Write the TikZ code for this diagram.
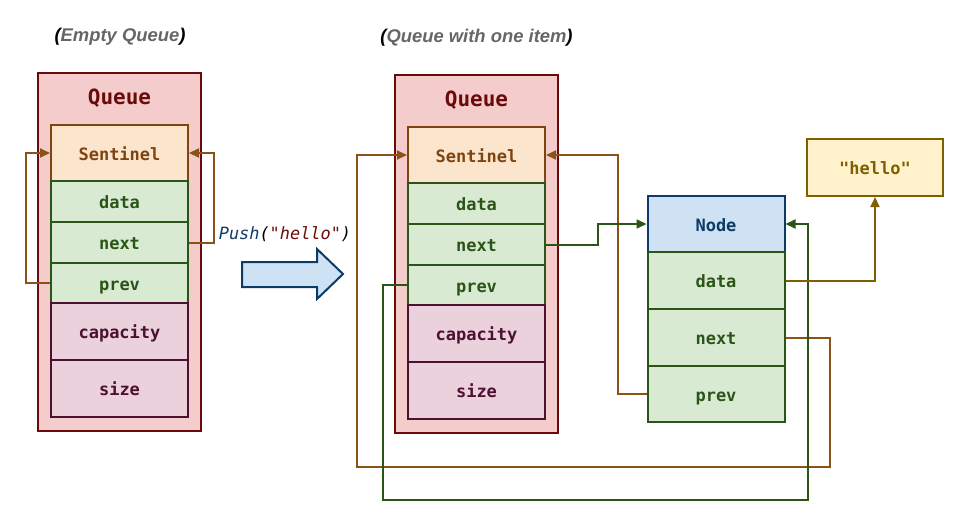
\documentclass[tikz,border=0pt]{standalone}
\usepackage{fontspec}
\setmainfont{Liberation Sans}
\setmonofont{DejaVu Sans Mono}
\usetikzlibrary{arrows.meta}
\definecolor{qfill}{HTML}{F4CCCC}
\definecolor{qline}{HTML}{6B0A0A}
\definecolor{sfill}{HTML}{FCE5CD}
\definecolor{sline}{HTML}{7F4511}
\definecolor{gfill}{HTML}{D9EAD3}
\definecolor{gline}{HTML}{2B5517}
\definecolor{mfill}{HTML}{EAD1DC}
\definecolor{mline}{HTML}{4C1130}
\definecolor{bfill}{HTML}{CFE2F3}
\definecolor{bline}{HTML}{0B3B66}
\definecolor{yfill}{HTML}{FFF2CC}
\definecolor{yline}{HTML}{7F6000}
\definecolor{conbrown}{HTML}{8B5218}
\definecolor{titlegray}{HTML}{666666}
\tikzset{
  fieldbox/.style={rectangle, draw, line width=2pt, inner sep=0pt, minimum width=137pt,
    font=\ttfamily\bfseries\fontsize{17}{19}\selectfont, text height=14pt, text depth=0pt},
  sentf/.style={fieldbox, fill=sfill, draw=sline, text=sline, minimum height=56pt},
  greenf/.style={fieldbox, fill=gfill, draw=gline, text=gline},
  purpf/.style={fieldbox, fill=mfill, draw=mline, text=mline, minimum height=57pt},
  nodef/.style={fieldbox, fill=bfill, draw=bline, text=bline, minimum height=56pt},
  hellof/.style={fieldbox, fill=yfill, draw=yline, text=yline, minimum height=57pt, minimum width=136pt},
  outerq/.style={rectangle, draw=qline, fill=qfill, line width=2pt, inner sep=0pt,
    minimum width=163pt, minimum height=358pt},
  qtitle/.style={font=\ttfamily\bfseries\fontsize{21}{23}\selectfont, text=qline},
  captext/.style={font=\bfseries\itshape\fontsize{18.4}{20}\selectfont, text=titlegray},
  conline/.style={line width=2pt},
  arrowtip/.style={-{Triangle[length=10pt,width=9pt]}},
}
\begin{document}
\begin{tikzpicture}[x=1pt,y=-1pt]
\useasboundingbox (0,0) rectangle (960,523);

% captions
\node[captext] (cap1) at (120,37) {\textcolor{black}{(}Empty Queue\textcolor{black}{)}};
\node[captext] (cap2) at (476.5,38) {\textcolor{black}{(}Queue with one item\textcolor{black}{)}};

% ---------- left queue ----------
\node[outerq] (q1) at (119.5,252) {};
\node[qtitle] (t1) at (119.5,98) {Queue};
\node[sentf] (s1) at (119.5,153) {Sentinel};
\node[greenf, minimum height=41pt] (d1) at (119.5,201.5) {data};
\node[greenf, minimum height=41pt] (n1) at (119.5,242.5) {next};
\node[greenf, minimum height=40pt] (p1) at (119.5,283) {prev};
\node[purpf] (c1) at (119.5,331.5) {capacity};
\node[purpf] (z1) at (119.5,388.5) {size};

\draw[conline, conbrown, arrowtip] (p1.west) -- ++(-24,0) |- (s1.west);
\draw[conline, conbrown, arrowtip] (n1.east) -- ++(25,0) |- (s1.east);

% ---------- push arrow ----------
\node[font=\ttfamily\itshape\fontsize{16.9}{18}\selectfont] (push) at (285,234)
  {\textcolor{bline}{Push}(\textcolor{qline}{"hello"})};
\draw[line width=2pt, draw=bline, fill=bfill, line join=miter]
  (242,262) -- (317,262) -- (317,249) -- (343,274) -- (317,299) -- (317,287) -- (242,287) -- cycle;

% ---------- right queue ----------
\node[outerq] (q2) at (476.5,254) {};
\node[qtitle] (t2) at (476.5,100) {Queue};
\node[sentf] (s2) at (476.5,155) {Sentinel};
\node[greenf, minimum height=41pt] (d2) at (476.5,203.5) {data};
\node[greenf, minimum height=41pt] (n2) at (476.5,244.5) {next};
\node[greenf, minimum height=40pt] (p2) at (476.5,285) {prev};
\node[purpf] (c2) at (476.5,333.5) {capacity};
\node[purpf] (z2) at (476.5,390.5) {size};

% ---------- list node ----------
\node[nodef] (nd) at (716,224) {Node};
\node[greenf, minimum height=57pt] (ndd) at (716,280.5) {data};
\node[greenf, minimum height=57pt] (ndn) at (716,337.5) {next};
\node[greenf, minimum height=56pt] (ndp) at (716,394) {prev};

\node[hellof] (hello) at (875,167.5) {"hello"};

% ---------- connectors ----------
\coordinate (b1) at (830,467);
\coordinate (b2) at (357,467);
\coordinate (g1) at (383,500);
\coordinate (g2) at (808,500);

\draw[conline, conbrown, arrowtip] (ndn.east) -| (b1) -- (b2) |- (s2.west);
\draw[conline, gline, arrowtip] (p2.west) -| (g1) -- (g2) |- (nd.east);
\draw[conline, conbrown, arrowtip] (ndp.west) -- ++(-29,0) |- (s2.east);
\draw[conline, gline, arrowtip] (n2.east) -- ++(52,0) |- (nd.west);
\draw[conline, yline, arrowtip] (ndd.east) -| (hello.south);
\end{tikzpicture}
\end{document}
